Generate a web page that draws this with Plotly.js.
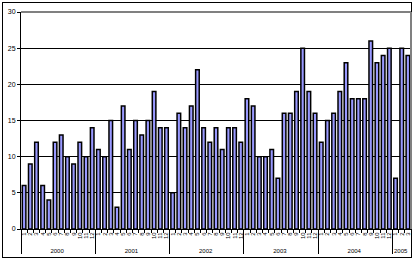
<!DOCTYPE html>
<html>
<head>
<meta charset="utf-8">
<script src="https://cdn.plot.ly/plotly-3.0.1.min.js"></script>
<style>
html,body{margin:0;padding:0;background:#fff;}
#frame{position:absolute;left:2px;top:2px;width:410px;height:256px;border:1px solid #000;box-sizing:border-box;}
#chart{position:absolute;left:0;top:0;width:415px;height:263px;}
</style>
</head>
<body>
<div id="frame"></div>
<div id="chart"></div>
<script>
const years = ["2000","2001","2002","2003","2004","2005"];
const values2000 = [6,9,12,6,4,12,13,10,9,12,10,14];
const values2001 = [11,10,15,3,17,11,15,13,15,19,14,14];
const values2002 = [5,16,14,17,22,14,12,14,11,14,14,12];
const values2003 = [18,17,10,10,11,7,16,16,19,25,19,16];
const values2004 = [12,15,16,19,23,18,18,18,26,23,24,25];
const values2005 = [7,25,24];
const yTicks = [0,5,10,15,20,25,30];

const allValues = [values2000,values2001,values2002,values2003,values2004,values2005];
const xYear = [], xMonth = [], yVal = [];
years.forEach((yr,i)=>{
  allValues[i].forEach((v,j)=>{
    xYear.push(yr);
    xMonth.push(String(j+1));
    yVal.push(v);
  });
});

const trace = {
  type:'bar',
  x:[xYear,xMonth],
  y:yVal,
  marker:{color:'#9999FF',line:{color:'#000000',width:1.5}},
  hoverinfo:'y'
};

const layout = {
  width:415,height:263,
  margin:{l:21,r:4,t:12,b:34},
  paper_bgcolor:'rgba(0,0,0,0)',
  plot_bgcolor:'#ffffff',
  bargap:0.42,
  showlegend:false,
  font:{family:'Liberation Sans, Arial, sans-serif',size:7,color:'#000'},
  xaxis:{
    type:'multicategory',
    showline:true,linecolor:'#000',linewidth:1,
    ticks:'outside',ticklen:3,tickcolor:'#000',
    tickangle:-90,
    dtick:1,
    tickfont:{size:6,color:'#000'},
    showdividers:true,dividercolor:'#000',dividerwidth:1,
    showgrid:false
  },
  yaxis:{
    range:[0,30],
    tickvals:yTicks,
    ticks:'outside',ticklen:3,tickcolor:'#000',
    showline:true,linecolor:'#000',linewidth:1,
    showgrid:true,gridcolor:'#000',gridwidth:1,
    zeroline:false,
    tickfont:{size:7}
  },
  shapes:[
    {type:'line',xref:'paper',yref:'paper',x0:0,x1:1,y0:1,y1:1,line:{color:'#808080',width:2}},
    {type:'line',xref:'paper',yref:'paper',x0:1,x1:1,y0:0,y1:1,line:{color:'#808080',width:2}}
  ]
};

Plotly.newPlot('chart',[trace],layout,{displayModeBar:false,staticPlot:true});
</script>
</body>
</html>
